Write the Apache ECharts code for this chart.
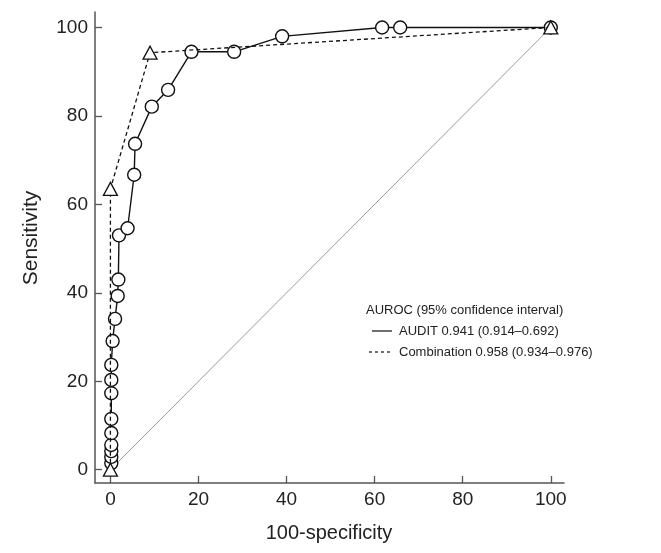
<!DOCTYPE html>
<html>
<head>
<meta charset="utf-8">
<script src="https://cdn.jsdelivr.net/npm/echarts@6/dist/echarts.min.js"></script>
<style>
html,body{margin:0;padding:0;background:#fff;}
#c{width:661px;height:553px;}
</style>
</head>
<body>
<div id="c"></div>
<script>
// ---- data ----
const auditName = 'AUDIT 0.941 (0.914\u20130.692)';
const comboName = 'Combination 0.958 (0.934\u20130.976)';
const legendTitle = 'AUROC (95% confidence interval)';
const xTitle = '100-specificity';
const yTitle = 'Sensitivity';
const tickValues = [0, 20, 40, 60, 80, 100];

const auditX = [0.2, 0.2, 0.2, 0.2, 0.2, 0.2, 0.2, 0.2, 0.2, 0.5, 1.05, 1.65, 1.8, 1.95, 3.9, 5.4, 5.6, 9.4, 13.1, 18.4, 28.1, 39.0, 61.7, 65.8, 100];
const auditY = [1.5, 2.9, 4.2, 5.6, 8.3, 11.5, 17.3, 20.3, 23.7, 29.1, 34.1, 39.3, 43.0, 53.0, 54.6, 66.7, 73.7, 82.1, 85.9, 94.5, 94.5, 98.0, 100, 100, 100];

const comboX = [0, 0, 9.0, 100];
const comboY = [0, 63.5, 94.3, 100];

const diagX = [0, 100];
const diagY = [0, 100];

const zip = (a, b) => a.map((v, i) => [v, b[i]]);

const FONT = '"Liberation Sans", Arial, sans-serif';
const chart = echarts.init(document.getElementById('c'), null, {renderer: 'canvas'});

const axisCommon = {
  type: 'value',
  splitLine: {show: false},
  axisLine: {show: true, onZero: false, lineStyle: {color: '#555', width: 1.5}},
  axisTick: {show: true, inside: true, length: 7, lineStyle: {color: '#555', width: 1.3}, customValues: tickValues},
  axisLabel: {customValues: tickValues, color: '#222', fontSize: 19, fontFamily: FONT, margin: 7}
};

chart.setOption({
  animation: false,
  backgroundColor: '#fff',
  grid: {left: 95, right: 97, top: 12, bottom: 70, containLabel: false},
  xAxis: Object.assign({}, axisCommon, {min: -3.5, max: 103}),
  yAxis: Object.assign({}, axisCommon, {min: -3, max: 103.5}),
  series: [
    {
      type: 'line', name: 'diag', data: zip(diagX, diagY), symbol: 'none', silent: true,
      lineStyle: {color: '#9a9a9a', width: 1}, z: 1
    },
    {
      type: 'line', name: auditName, data: zip(auditX, auditY),
      symbol: 'circle', symbolSize: 13, showAllSymbol: true,
      lineStyle: {color: '#111', width: 1.4},
      itemStyle: {color: '#fff', borderColor: '#111', borderWidth: 1.4}, z: 2
    },
    {
      type: 'line', name: comboName, data: zip(comboX, comboY),
      symbol: 'triangle', symbolSize: [14, 13], showAllSymbol: true,
      lineStyle: {color: '#111', width: 1.3, type: [4, 3]},
      itemStyle: {color: '#fff', borderColor: '#111', borderWidth: 1.3}, z: 3
    }
  ],
  graphic: [
    {type: 'text', x: 31, y: 238, rotation: Math.PI / 2,
      style: {text: yTitle, fontSize: 21, fontFamily: FONT, fill: '#222', align: 'center', verticalAlign: 'middle'}},
    {type: 'text', x: 329, y: 533,
      style: {text: xTitle, fontSize: 20, fontFamily: FONT, fill: '#222', align: 'center', verticalAlign: 'middle'}},
    {type: 'text', x: 366, y: 310,
      style: {text: legendTitle, fontSize: 13, fontFamily: FONT, fill: '#222', align: 'left', verticalAlign: 'middle'}},
    {type: 'line', shape: {x1: 372, y1: 331, x2: 392, y2: 331}, style: {stroke: '#111', lineWidth: 1.2}},
    {type: 'text', x: 399, y: 331,
      style: {text: auditName, fontSize: 13, fontFamily: FONT, fill: '#222', align: 'left', verticalAlign: 'middle'}},
    {type: 'line', shape: {x1: 369, y1: 352, x2: 392, y2: 352}, style: {stroke: '#111', lineWidth: 1.2, lineDash: [3, 3]}},
    {type: 'text', x: 399, y: 352,
      style: {text: comboName, fontSize: 13, fontFamily: FONT, fill: '#222', align: 'left', verticalAlign: 'middle'}}
  ]
});
</script>
</body>
</html>
